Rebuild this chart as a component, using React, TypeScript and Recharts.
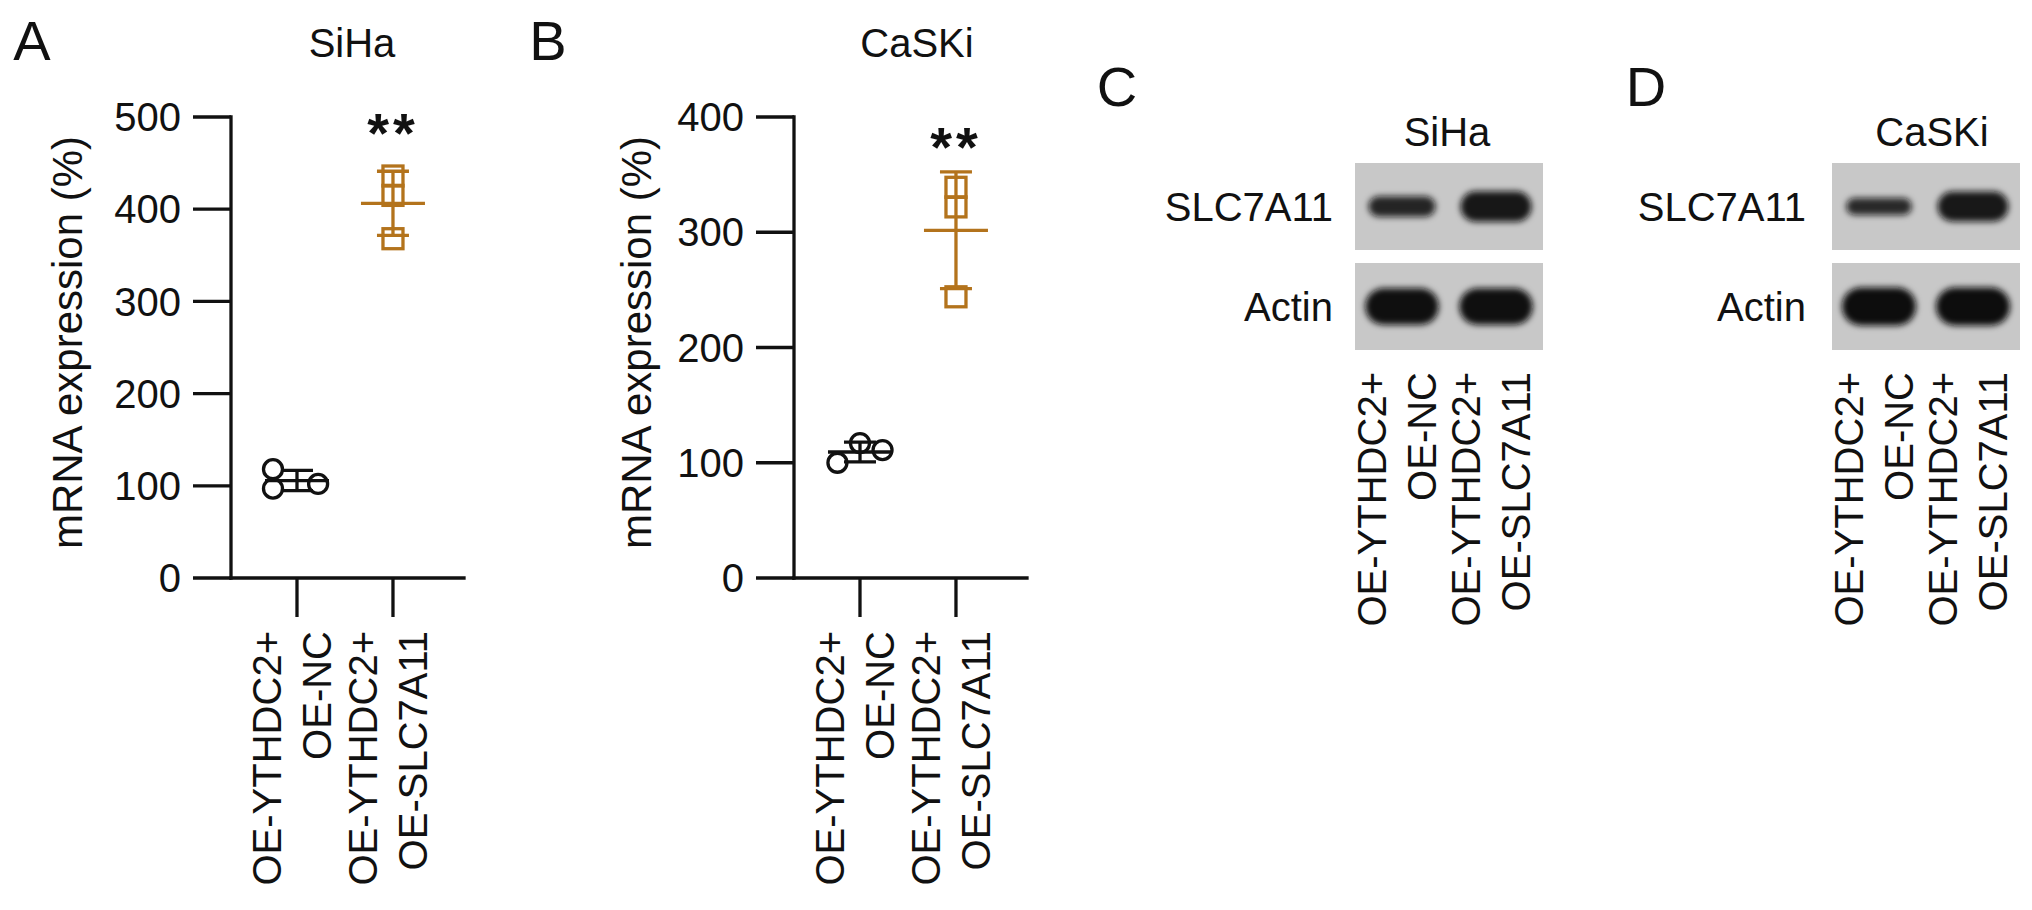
import React from "react";
import { ScatterChart, Scatter, XAxis, YAxis, ErrorBar, ReferenceArea } from "recharts";

const FONT = "'Liberation Sans', Arial, Helvetica, sans-serif";
const INK = "#111111";
const ORANGE = "#b3731c";
const SW = 3.3;

// ---------- data ----------
const groupLabels: string[][] = [
  ["OE-YTHDC2+", "OE-NC"],
  ["OE-YTHDC2+", "OE-SLC7A11"],
];
const groupTicks = [1, 2];

const sihaNC = [118, 97, 102];
const sihaSLC = [436, 415, 368];
const caskiNC = [100, 117, 111];
const caskiSLC = [339, 322, 244];

// horizontal scatter of replicate dots (in category units)
const sihaNCJitter = [-0.25, -0.25, 0.22];
const caskiNCJitter = [-0.235, 0, 0.235];
const slcJitter = [0, 0, 0];

const sihaYTicks = [0, 100, 200, 300, 400, 500];
const caskiYTicks = [0, 100, 200, 300, 400];

const sihaSig = [{ x: 2, y: 497, text: "**" }];
const caskiSig = [{ x: 2, y: 385, text: "**" }];

const blotRows = ["SLC7A11", "Actin"];
const laneTicks = [0.5, 1.5];
const sihaSLC7A11Band = [0.42, 0.75];
const sihaActinBand = [0.95, 0.95];
const caskiSLC7A11Band = [0.3, 0.73];
const caskiActinBand = [1.0, 1.0];

// ---------- helpers ----------
const mean = (a: number[]) => a.reduce((s, v) => s + v, 0) / a.length;
const sd = (a: number[]) => {
  const m = mean(a);
  return Math.sqrt(a.reduce((s, v) => s + (v - m) * (v - m), 0) / (a.length - 1));
};
const toPoints = (vals: number[], jit: number[], g: number) =>
  vals.map((v, i) => ({ x: g + jit[i], y: v }));
const toSummary = (vals: number[], g: number) => [{ x: g, y: mean(vals), err: sd(vals) }];

const makeGroupTick = (labels: string[][], ticks: number[]) => (props: any) => {
  const { x, y, payload } = props;
  const idx = ticks.indexOf(payload.value);
  const lines = labels[idx] || [];
  return (
    <g>
      {lines.map((ln, k) => {
        const bx = x + (k === 0 ? -16 : 34);
        return (
          <text
            key={k}
            x={bx}
            y={y}
            transform={`rotate(-90 ${bx} ${y})`}
            textAnchor="end"
            fontSize={40}
            fontFamily={FONT}
            fill={INK}
          >
            {ln}
          </text>
        );
      })}
    </g>
  );
};

const circleShape = (p: any) => (
  <circle cx={p.cx} cy={p.cy} r={9.5} fill="none" stroke={INK} strokeWidth={SW} />
);
const squareShape = (p: any) => (
  <rect x={p.cx - 10} y={p.cy - 10} width={20} height={20} fill="none" stroke={ORANGE} strokeWidth={SW} />
);
const meanShape = (color: string) => (p: any) => (
  <line x1={p.cx - 32} x2={p.cx + 32} y1={p.cy} y2={p.cy} stroke={color} strokeWidth={SW} />
);
const sigShape = (p: any) => (
  <text
    x={p.cx}
    y={p.cy + 0.57 * 56}
    textAnchor="middle"
    fontSize={56}
    fontWeight="bold"
    letterSpacing={4}
    fontFamily={FONT}
    fill={INK}
  >
    {p.payload.text}
  </text>
);

type DotProps = {
  left: number;
  nc: number[];
  ncJit: number[];
  slc: number[];
  yMax: number;
  yTicks: number[];
  sig: any[];
  labelX: number;
};

function DotPlot({ left, nc, ncJit, slc, yMax, yTicks, sig, labelX }: DotProps) {
  const W = 520;
  const H = 910;
  const plotLeft = 231;
  const plotRight = 464;
  const plotTop = 117;
  const plotBottom = 578;
  return (
    <div style={{ position: "absolute", left, top: 0, width: W, height: H }}>
      <ScatterChart
        width={W}
        height={H}
        margin={{ top: plotTop, right: W - plotRight, bottom: 0, left: 0 }}
      >
        <XAxis
          type="number"
          dataKey="x"
          domain={[0.3125, 2.74]}
          ticks={groupTicks}
          interval={0}
          height={H - plotBottom}
          tickSize={39}
          tickMargin={14}
          axisLine={{ stroke: INK, strokeWidth: SW, strokeLinecap: "square" }}
          tickLine={{ stroke: INK, strokeWidth: SW }}
          tick={makeGroupTick(groupLabels, groupTicks)}
        />
        <YAxis
          type="number"
          dataKey="y"
          domain={[0, yMax]}
          ticks={yTicks}
          interval={0}
          width={plotLeft}
          tickSize={38}
          tickMargin={12}
          axisLine={{ stroke: INK, strokeWidth: SW, strokeLinecap: "square" }}
          tickLine={{ stroke: INK, strokeWidth: SW }}
          tick={{ fill: INK, fontSize: 40, fontFamily: FONT }}
          label={{
            content: (lp: any) => {
              const vb = lp.viewBox || { x: 0, y: plotTop, width: plotLeft, height: plotBottom - plotTop };
              const cx = labelX;
              const cy = vb.y + vb.height / 2 - 5;
              return (
                <text
                  x={cx}
                  y={cy}
                  transform={`rotate(-90 ${cx} ${cy})`}
                  textAnchor="middle"
                  fontSize={42}
                  fontFamily={FONT}
                  fill={INK}
                >
                  mRNA expression (%)
                </text>
              );
            },
          }}
        />
        <Scatter data={toSummary(nc, 1)} shape={meanShape(INK)} isAnimationActive={false}>
          <ErrorBar dataKey="err" direction="y" width={16} stroke={INK} strokeWidth={SW} isAnimationActive={false} />
        </Scatter>
        <Scatter data={toSummary(slc, 2)} shape={meanShape(ORANGE)} isAnimationActive={false}>
          <ErrorBar dataKey="err" direction="y" width={16} stroke={ORANGE} strokeWidth={SW} isAnimationActive={false} />
        </Scatter>
        <Scatter data={toPoints(nc, ncJit, 1)} shape={circleShape} isAnimationActive={false} />
        <Scatter data={toPoints(slc, slcJitter, 2)} shape={squareShape} isAnimationActive={false} />
        <Scatter data={sig} shape={sigShape} isAnimationActive={false} />
      </ScatterChart>
    </div>
  );
}

const bandShape = (p: any) => {
  const v = p.payload.v;
  const h = 8 + 30 * v;
  const w = 62 + 12 * v;
  return (
    <rect
      x={p.cx - w / 2}
      y={p.cy - h / 2}
      width={w}
      height={h}
      rx={h / 2}
      fill="#101010"
      fillOpacity={0.8 + 0.2 * v}
      filter="url(#bandBlur)"
    />
  );
};

type BlotProps = {
  left: number;
  width: number;
  plotLeft: number;
  plotRight: number;
  rowMargin: number;
  slcBand: number[];
  actinBand: number[];
};

function Blot({ left, width, plotLeft, plotRight, rowMargin, slcBand, actinBand }: BlotProps) {
  const H = 910;
  const top = 163;
  const bottom = 350;
  const rowY = (name: string) => blotRows.length - 0.5 - blotRows.indexOf(name);
  const slcData = slcBand.map((v, i) => ({ x: laneTicks[i], y: rowY("SLC7A11"), v }));
  const actinData = actinBand.map((v, i) => ({ x: laneTicks[i], y: rowY("Actin"), v }));
  return (
    <div style={{ position: "absolute", left, top: 0, width, height: H }}>
      <ScatterChart
        width={width}
        height={H}
        margin={{ top, right: width - (plotRight - left), bottom: 0, left: 0 }}
      >
        <XAxis
          type="number"
          dataKey="x"
          domain={[0, 2]}
          ticks={laneTicks}
          interval={0}
          height={H - bottom}
          axisLine={false}
          tickLine={false}
          tickSize={0}
          tickMargin={22}
          tick={makeGroupTick(groupLabels, laneTicks)}
        />
        <YAxis
          type="number"
          dataKey="y"
          domain={[0.065, 1.935]}
          ticks={blotRows.map((r) => rowY(r))}
          interval={0}
          width={plotLeft - left}
          axisLine={false}
          tickLine={false}
          tickSize={0}
          tickMargin={rowMargin}
          tickFormatter={(v: number) => blotRows[blotRows.length - 0.5 - v] ?? ""}
          tick={{ fill: INK, fontSize: 40, fontFamily: FONT }}
        />
        <ReferenceArea x1={0} x2={2} y1={1.065} y2={1.935} fill="#c8c8c8" fillOpacity={1} stroke="none" />
        <ReferenceArea x1={0} x2={2} y1={0.065} y2={0.935} fill="#c8c8c8" fillOpacity={1} stroke="none" />
        <Scatter data={slcData} shape={bandShape} isAnimationActive={false} />
        <Scatter data={actinData} shape={bandShape} isAnimationActive={false} />
      </ScatterChart>
    </div>
  );
}

const letterSize = 56;
const titleSize = 40;

export default function App() {
  return (
    <div
      style={{
        position: "absolute",
        left: 0,
        top: 0,
        width: 2032,
        height: 910,
        background: "#ffffff",
        overflow: "hidden",
        fontFamily: FONT,
      }}
    >
      <svg width={0} height={0} style={{ position: "absolute" }}>
        <defs>
          <filter id="bandBlur" x="-30%" y="-80%" width="160%" height="260%">
            <feGaussianBlur stdDeviation={3.4} />
          </filter>
        </defs>
      </svg>
      <DotPlot
        left={0}
        nc={sihaNC}
        ncJit={sihaNCJitter}
        slc={sihaSLC}
        yMax={500}
        yTicks={sihaYTicks}
        sig={sihaSig}
        labelX={82}
      />
      <DotPlot
        left={563}
        nc={caskiNC}
        ncJit={caskiNCJitter}
        slc={caskiSLC}
        yMax={400}
        yTicks={caskiYTicks}
        sig={caskiSig}
        labelX={88}
      />
      <Blot
        left={1040}
        width={540}
        plotLeft={1355}
        plotRight={1543}
        rowMargin={22}
        slcBand={sihaSLC7A11Band}
        actinBand={sihaActinBand}
      />
      <Blot
        left={1580}
        width={452}
        plotLeft={1832}
        plotRight={2020}
        rowMargin={26}
        slcBand={caskiSLC7A11Band}
        actinBand={caskiActinBand}
      />
      <svg width={2032} height={910} style={{ position: "absolute", left: 0, top: 0, pointerEvents: "none" }}>
        <g fontFamily={FONT} fill={INK}>
          <text x={32} y={40 + 0.358 * letterSize} fontSize={letterSize} textAnchor="middle">A</text>
          <text x={548} y={40 + 0.358 * letterSize} fontSize={letterSize} textAnchor="middle">B</text>
          <text x={1117} y={86 + 0.358 * letterSize} fontSize={letterSize} textAnchor="middle">C</text>
          <text x={1646} y={86 + 0.358 * letterSize} fontSize={letterSize} textAnchor="middle">D</text>
          <text x={352} y={43 + 0.358 * titleSize} fontSize={titleSize} textAnchor="middle">SiHa</text>
          <text x={917} y={43 + 0.358 * titleSize} fontSize={titleSize} textAnchor="middle">CaSKi</text>
          <text x={1447} y={132 + 0.358 * titleSize} fontSize={titleSize} textAnchor="middle">SiHa</text>
          <text x={1932} y={132 + 0.358 * titleSize} fontSize={titleSize} textAnchor="middle">CaSKi</text>
        </g>
      </svg>
    </div>
  );
}
